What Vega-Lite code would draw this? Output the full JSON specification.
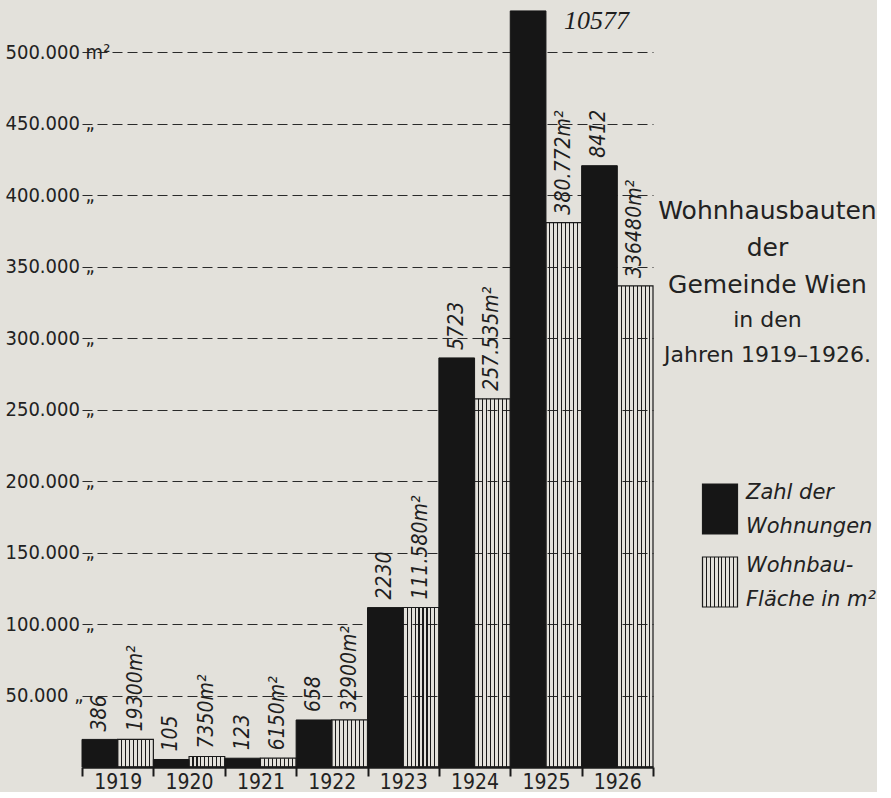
{
  "$schema": "https://vega.github.io/schema/vega-lite/v6.json",
  "background": "#e3e1db",
  "padding": {"left": 5, "top": 5, "right": 0, "bottom": 0},
  "width": 571,
  "height": 762,
  "config": {"view": {"stroke": null}, "font": "Liberation Sans Narrow, DejaVu Sans Condensed, sans-serif"},
  "data": {"values": [
    {"jahr": 1919, "wohnungen": 386, "flaeche": 19300, "flaeche_text": "19300m²"},
    {"jahr": 1920, "wohnungen": 105, "flaeche": 7350, "flaeche_text": "7350m²"},
    {"jahr": 1921, "wohnungen": 123, "flaeche": 6150, "flaeche_text": "6150m²"},
    {"jahr": 1922, "wohnungen": 658, "flaeche": 32900, "flaeche_text": "32900m²"},
    {"jahr": 1923, "wohnungen": 2230, "flaeche": 111580, "flaeche_text": "111.580m²"},
    {"jahr": 1924, "wohnungen": 5723, "flaeche": 257535, "flaeche_text": "257.535m²"},
    {"jahr": 1925, "wohnungen": 10577, "flaeche": 380772, "flaeche_text": "380.772m²"},
    {"jahr": 1926, "wohnungen": 8412, "flaeche": 336480, "flaeche_text": "336480m²"}
  ]},
  "title": {
    "text": ["Wohnhausbauten", "der", "Gemeinde Wien"],
    "subtitle": ["in den", "Jahren 1919–1926."],
    "anchor": "middle",
    "align": "center",
    "dx": 400,
    "dy": 365,
    "font": "DejaVu Sans",
    "fontSize": 25,
    "fontWeight": "normal",
    "lineHeight": 37,
    "color": "#222222",
    "subtitleFont": "DejaVu Sans",
    "subtitleFontSize": 22,
    "subtitleLineHeight": 35,
    "subtitlePadding": 12,
    "subtitleColor": "#222222"
  },
  "encoding": {
    "x": {
      "field": "jahr",
      "type": "ordinal",
      "scale": {"paddingInner": 0, "paddingOuter": 0},
      "axis": {
        "title": null,
        "labelAngle": 0,
        "tickBand": "extent",
        "tickSize": 9,
        "tickWidth": 2,
        "tickColor": "#1a1a1a",
        "domainColor": "#1a1a1a",
        "domainWidth": 2.5,
        "labelFontSize": 21,
        "labelPadding": -5,
        "labelColor": "#222222",
        "labelFont": "Liberation Sans Narrow, DejaVu Sans Condensed, sans-serif"
      }
    }
  },
  "layer": [
    {
      "layer": [
        {
          "mark": {"type": "bar", "stroke": "#161616", "strokeWidth": 1},
          "encoding": {
            "xOffset": {"datum": "Zahl der Wohnungen", "scale": {"domain": ["Zahl der Wohnungen", "Wohnbaufläche in m²"], "paddingInner": 0, "paddingOuter": 0}},
            "y": {"field": "wohnungen", "type": "quantitative", "scale": {"domain": [0, 10660], "nice": false}, "axis": null},
            "color": {
              "datum": "Zahl der Wohnungen",
              "scale": {
                "domain": ["Zahl der Wohnungen", "Wohnbaufläche in m²"],
                "range": ["#161616", {"expr": "{gradient:'linear',x1:0,y1:0,x2:1,y2:0,stops:[{offset:0,color:'rgba(0,0,0,0)'},{offset:0.096,color:'rgba(0,0,0,0)'},{offset:0.096,color:'#1a1a1a'},{offset:0.126,color:'#1a1a1a'},{offset:0.126,color:'rgba(0,0,0,0)'},{offset:0.207,color:'rgba(0,0,0,0)'},{offset:0.207,color:'#1a1a1a'},{offset:0.237,color:'#1a1a1a'},{offset:0.237,color:'rgba(0,0,0,0)'},{offset:0.318,color:'rgba(0,0,0,0)'},{offset:0.318,color:'#1a1a1a'},{offset:0.348,color:'#1a1a1a'},{offset:0.348,color:'rgba(0,0,0,0)'},{offset:0.429,color:'rgba(0,0,0,0)'},{offset:0.429,color:'#1a1a1a'},{offset:0.459,color:'#1a1a1a'},{offset:0.459,color:'rgba(0,0,0,0)'},{offset:0.541,color:'rgba(0,0,0,0)'},{offset:0.541,color:'#1a1a1a'},{offset:0.571,color:'#1a1a1a'},{offset:0.571,color:'rgba(0,0,0,0)'},{offset:0.652,color:'rgba(0,0,0,0)'},{offset:0.652,color:'#1a1a1a'},{offset:0.682,color:'#1a1a1a'},{offset:0.682,color:'rgba(0,0,0,0)'},{offset:0.763,color:'rgba(0,0,0,0)'},{offset:0.763,color:'#1a1a1a'},{offset:0.793,color:'#1a1a1a'},{offset:0.793,color:'rgba(0,0,0,0)'},{offset:0.874,color:'rgba(0,0,0,0)'},{offset:0.874,color:'#1a1a1a'},{offset:0.904,color:'#1a1a1a'},{offset:0.904,color:'rgba(0,0,0,0)'},{offset:1,color:'rgba(0,0,0,0)'}]}"}]
              },
              "legend": {
                "orient": "none",
                "legendX": 612,
                "legendY": 478,
                "title": null,
                "symbolType": "M-0.7,-1H0.7V1H-0.7Z",
                "symbolSize": 2500,
                "symbolStrokeColor": "#1a1a1a",
                "symbolStrokeWidth": 1.2,
                "labelExpr": "datum.label == 'Zahl der Wohnungen' ? ['Zahl der', 'Wohnungen'] : ['Wohnbau-', 'Fläche in m²']",
                "labelFont": "DejaVu Sans",
                "labelFontStyle": "italic",
                "labelFontSize": 21,
                "labelColor": "#222222",
                "labelLimit": 0,
                "labelOffset": 0,
                "rowPadding": 17,
                "encode": {"labels": {"update": {"lineHeight": {"value": 34}, "dy": {"value": -16}}}}
              }
            }
          }
        },
        {
          "transform": [{"filter": "datum.jahr != 1925"}],
          "mark": {"type": "text", "angle": 270, "align": "left", "baseline": "middle", "dx": 8, "fontStyle": "italic", "fontSize": 21, "color": "#1e1e1e"},
          "encoding": {
            "xOffset": {"datum": "Zahl der Wohnungen"},
            "y": {"field": "wohnungen", "type": "quantitative"},
            "text": {"field": "wohnungen", "type": "nominal"}
          }
        },
        {
          "transform": [{"filter": "datum.jahr == 1925"}],
          "mark": {"type": "text", "align": "left", "baseline": "middle", "dx": 36, "dy": 10, "font": "Liberation Serif", "fontStyle": "italic", "fontSize": 26, "color": "#1e1e1e"},
          "encoding": {
            "xOffset": {"datum": "Zahl der Wohnungen"},
            "y": {"field": "wohnungen", "type": "quantitative"},
            "text": {"field": "wohnungen", "type": "nominal"}
          }
        }
      ]
    },
    {
      "layer": [
        {
          "mark": {"type": "bar", "stroke": "#1a1a1a", "strokeWidth": 1.2},
          "encoding": {
            "xOffset": {"datum": "Wohnbaufläche in m²"},
            "y": {
              "field": "flaeche",
              "type": "quantitative",
              "scale": {"domain": [0, 533000], "nice": false},
              "axis": {
                "orient": "left",
                "title": null,
                "values": [50000, 100000, 150000, 200000, 250000, 300000, 350000, 400000, 450000, 500000],
                "labelExpr": "datum.value == 500000 ? '500.000 m²' : replace(format(datum.value, ','), ',', '.') + ' „'",
                "grid": true,
                "gridDash": [10, 5],
                "gridColor": "#2a2a2a",
                "gridWidth": 1.2,
                "domain": false,
                "ticks": false,
                "tickSize": 0,
                "labelAlign": "left",
                "labelPadding": 77,
                "labelBaseline": "middle",
                "labelFontSize": 20,
                "labelColor": "#222222",
                "labelOverlap": false,
                "labelFont": "Liberation Sans Narrow, DejaVu Sans Condensed, sans-serif"
              }
            },
            "color": {"datum": "Wohnbaufläche in m²"}
          }
        },
        {
          "mark": {"type": "text", "angle": 270, "align": "left", "baseline": "middle", "dx": 8, "fontStyle": "italic", "fontSize": 21, "color": "#1e1e1e"},
          "encoding": {
            "xOffset": {"datum": "Wohnbaufläche in m²"},
            "y": {"field": "flaeche", "type": "quantitative"},
            "text": {"field": "flaeche_text", "type": "nominal"}
          }
        }
      ]
    }
  ],
  "resolve": {"scale": {"y": "independent"}}
}
